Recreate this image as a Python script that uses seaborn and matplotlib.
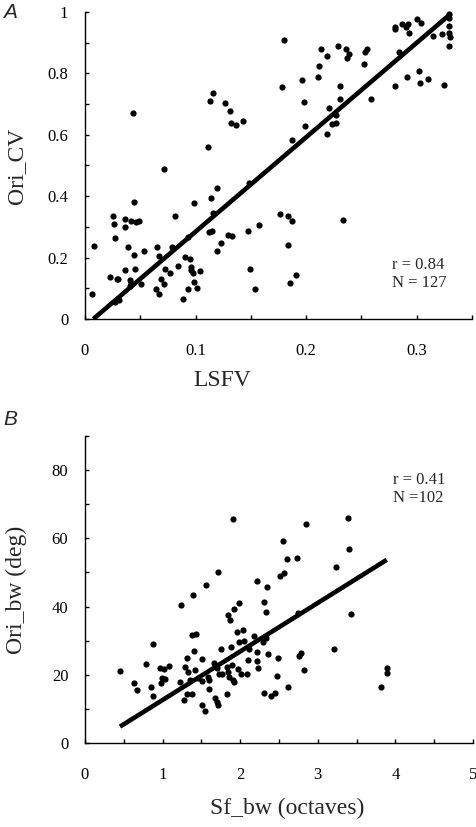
import numpy as np
import pandas as pd
import matplotlib
matplotlib.use("Agg")
import matplotlib.pyplot as plt
import seaborn as sns

# Panel A: LSFV vs Ori_CV
lsfv = [0.043, 0.071, 0.111, 0.113, 0.116, 0.127, 0.131, 0.132, 0.137, 0.143,
        0.180, 0.178, 0.196, 0.198, 0.199, 0.187, 0.211, 0.212, 0.213, 0.219,
        0.229, 0.236, 0.239, 0.237, 0.231, 0.231, 0.221, 0.227, 0.223, 0.227,
        0.219, 0.252, 0.253, 0.255, 0.259, 0.280, 0.280, 0.287, 0.292, 0.293,
        0.300, 0.304, 0.284, 0.280, 0.291, 0.302, 0.303, 0.310, 0.315, 0.323,
        0.325, 0.329, 0.329, 0.329, 0.330, 0.329, 0.329, 0.114, 0.119, 0.099,
        0.025, 0.026, 0.027, 0.036, 0.036, 0.042, 0.044, 0.046, 0.049, 0.008,
        0.006, 0.039, 0.044, 0.053, 0.023, 0.029, 0.030, 0.036, 0.041, 0.042,
        0.045, 0.051, 0.041, 0.027, 0.031, 0.065, 0.067, 0.072, 0.069, 0.071,
        0.064, 0.067, 0.077, 0.079, 0.081, 0.084, 0.090, 0.093, 0.095, 0.089,
        0.093, 0.096, 0.096, 0.098, 0.099, 0.101, 0.104, 0.115, 0.119, 0.123,
        0.129, 0.133, 0.116, 0.148, 0.147, 0.157, 0.149, 0.154, 0.176, 0.184,
        0.187, 0.184, 0.185, 0.191, 0.233, 0.112, 0.290]
ori_cv = [0.670, 0.488, 0.560, 0.710, 0.735, 0.704, 0.678, 0.640, 0.633, 0.644,
          0.909, 0.755, 0.777, 0.707, 0.630, 0.583, 0.787, 0.823, 0.880, 0.856,
          0.888, 0.878, 0.864, 0.849, 0.759, 0.717, 0.688, 0.666, 0.636, 0.639,
          0.603, 0.829, 0.869, 0.880, 0.716, 0.952, 0.943, 0.962, 0.962, 0.933,
          0.976, 0.963, 0.869, 0.758, 0.789, 0.809, 0.769, 0.783, 0.923, 0.927,
          0.763, 0.979, 0.954, 0.930, 0.919, 0.888, 0.995, 0.394, 0.426, 0.378,
          0.336, 0.310, 0.265, 0.325, 0.301, 0.320, 0.381, 0.316, 0.318, 0.237,
          0.081, 0.235, 0.209, 0.222, 0.138, 0.131, 0.131, 0.159, 0.127, 0.118,
          0.163, 0.113, 0.108, 0.056, 0.062, 0.234, 0.206, 0.164, 0.130, 0.114,
          0.097, 0.082, 0.149, 0.234, 0.336, 0.173, 0.203, 0.267, 0.196, 0.064,
          0.097, 0.169, 0.160, 0.149, 0.122, 0.100, 0.157, 0.288, 0.220, 0.247,
          0.274, 0.269, 0.346, 0.443, 0.287, 0.307, 0.163, 0.097, 0.342, 0.337,
          0.318, 0.241, 0.117, 0.144, 0.323, 0.284, 0.950]
# fitted line drawn in the figure (end points)
fit_a_x = [0.0075, 0.331]
fit_a_y = [0.0, 0.995]

# Panel B: Sf_bw vs Ori_bw
sf_bw = [0.451, 0.628, 0.666, 0.786, 0.851, 0.872, 0.872, 0.970, 1.018, 1.082,
         0.996, 1.035, 0.976, 1.224, 1.241, 1.388, 1.559, 1.718, 1.911, 1.375,
         1.434, 1.405, 1.311, 1.512, 1.285, 1.331, 1.418, 1.353, 1.460, 1.512,
         1.602, 1.318, 1.383, 1.272, 1.512, 1.546, 1.981, 1.924, 1.843, 1.869,
         2.303, 2.336, 2.741, 1.955, 2.036, 1.988, 2.053, 2.174, 2.290, 2.336,
         1.881, 1.749, 2.117, 2.213, 2.354, 2.483, 2.784, 2.762, 1.666, 2.213,
         2.229, 2.826, 1.697, 1.834, 1.890, 1.972, 1.847, 2.010, 2.084, 1.727,
         1.769, 1.860, 1.903, 1.924, 2.478, 1.598, 2.612, 2.307, 2.393, 2.445,
         1.834, 1.675, 1.697, 1.718, 2.844, 3.393, 3.406, 2.552, 2.603, 2.732,
         2.213, 2.349, 2.513, 2.568, 3.235, 3.205, 3.432, 3.811, 3.888, 3.888,
         1.589, 2.101]
ori_bw = [21.1, 17.7, 15.5, 23.3, 16.4, 13.8, 29.1, 22.1, 21.8, 22.7,
          19.0, 18.8, 17.5, 17.8, 40.6, 43.4, 46.3, 50.1, 65.8, 31.8,
          31.9, 27.0, 25.0, 24.7, 22.4, 20.8, 21.4, 18.5, 19.0, 18.3,
          15.9, 14.5, 14.5, 12.6, 11.2, 9.3, 41.1, 39.4, 37.5, 36.1,
          41.3, 38.4, 38.0, 32.6, 33.2, 29.5, 29.9, 31.3, 29.5, 30.9,
          28.2, 27.6, 27.7, 26.6, 26.1, 25.0, 26.3, 25.5, 23.5, 24.0,
          22.1, 21.4, 22.1, 22.4, 22.9, 21.8, 20.9, 20.2, 20.2, 20.1,
          20.1, 19.3, 18.5, 18.0, 19.6, 18.5, 16.3, 14.8, 13.8, 14.6,
          14.3, 13.3, 12.0, 11.1, 64.1, 66.0, 56.8, 59.3, 53.9, 54.3,
          47.4, 45.8, 49.0, 49.9, 51.7, 27.5, 37.7, 16.3, 21.9, 20.6,
          19.3, 24.3]
fit_b_x = [0.451, 3.888]
fit_b_y = [4.8, 53.7]

df_a = pd.DataFrame({"LSFV": lsfv, "Ori_CV": ori_cv})
df_b = pd.DataFrame({"Sf_bw": sf_bw, "Ori_bw": ori_bw})

sns.set_theme(style="ticks")
plt.rcParams["font.family"] = ["Liberation Serif", "DejaVu Serif"]

fig = plt.figure(figsize=(4.77, 8.27), dpi=100)
ax_a = fig.add_axes([85 / 477, 1 - 319 / 827, 387 / 477, 307 / 827])
ax_b = fig.add_axes([85 / 477, 1 - 743 / 827, 388 / 477, 307 / 827])

# scatter + fitted line
sns.scatterplot(data=df_a, x="LSFV", y="Ori_CV", ax=ax_a, s=20,
                color="black", linewidth=0, clip_on=False)
sns.lineplot(x=fit_a_x, y=fit_a_y, ax=ax_a, color="black", lw=3.3,
             solid_capstyle="butt")
sns.scatterplot(data=df_b, x="Sf_bw", y="Ori_bw", ax=ax_b, s=20,
                color="black", linewidth=0, clip_on=False)
sns.lineplot(x=fit_b_x, y=fit_b_y, ax=ax_b, color="black", lw=3.3,
             solid_capstyle="butt")

# axis limits and ticks
ax_a.set_xlim(0, 0.35)
ax_a.set_ylim(0, 1)
ax_a.set_xticks([0, 0.1, 0.2, 0.3])
ax_a.set_xticklabels(["0", "0.1", "0.2", "0.3"])
ax_a.set_xticks([0.05, 0.15, 0.25, 0.35], minor=True)
ax_a.set_yticks([0, 0.2, 0.4, 0.6, 0.8, 1])
ax_a.set_yticklabels(["0", "0.2", "0.4", "0.6", "0.8", "1"])
ax_a.set_yticks([0.1, 0.3, 0.5, 0.7, 0.9], minor=True)

ax_b.set_xlim(0, 5)
ax_b.set_ylim(0, 90)
ax_b.set_xticks([0, 1, 2, 3, 4, 5])
ax_b.set_xticks([0.5, 1.5, 2.5, 3.5, 4.5], minor=True)
ax_b.set_yticks([0, 20, 40, 60, 80])
ax_b.set_yticks([10, 30, 50, 70, 90], minor=True)

for ax in (ax_a, ax_b):
    sns.despine(ax=ax)
    for side in ("left", "bottom"):
        ax.spines[side].set_linewidth(1.0)
        ax.spines[side].set_color("black")
    ax.tick_params(which="both", direction="in", length=3.2, width=1.0,
                   color="black", labelsize=12, labelcolor="black")
    ax.tick_params(axis="y", which="both", pad=12)
    ax.tick_params(axis="x", which="both", pad=17)
    ax.set_facecolor("white")

ax_a.set_xlabel("LSFV", fontsize=17)
ax_a.set_ylabel("Ori_CV", fontsize=17)
ax_a.xaxis.set_label_coords(0.354, -0.166)
ax_a.yaxis.set_label_coords(-0.15, 0.5)

ax_b.set_xlabel("Sf_bw (octaves)", fontsize=17)
ax_b.set_ylabel("Ori_bw (deg)", fontsize=17)
ax_b.xaxis.set_label_coords(0.52, -0.179)
ax_b.yaxis.set_label_coords(-0.15, 0.5)

ax_a.text(0.793, 0.147, "r = 0.84\nN = 127", transform=ax_a.transAxes,
          ha="left", va="center", fontsize=12)
ax_b.text(0.794, 0.827, "r = 0.41\nN =102", transform=ax_b.transAxes,
          ha="left", va="center", fontsize=12)

fig.text(10 / 477, 1 - 13 / 827, "A", ha="center", va="center", fontsize=15,
         style="italic", family=["Liberation Sans", "DejaVu Sans"])
fig.text(10 / 477, 1 - 419 / 827, "B", ha="center", va="center", fontsize=15,
         style="italic", family=["Liberation Sans", "DejaVu Sans"])

fig.savefig("out.png", dpi=100, facecolor="white")
